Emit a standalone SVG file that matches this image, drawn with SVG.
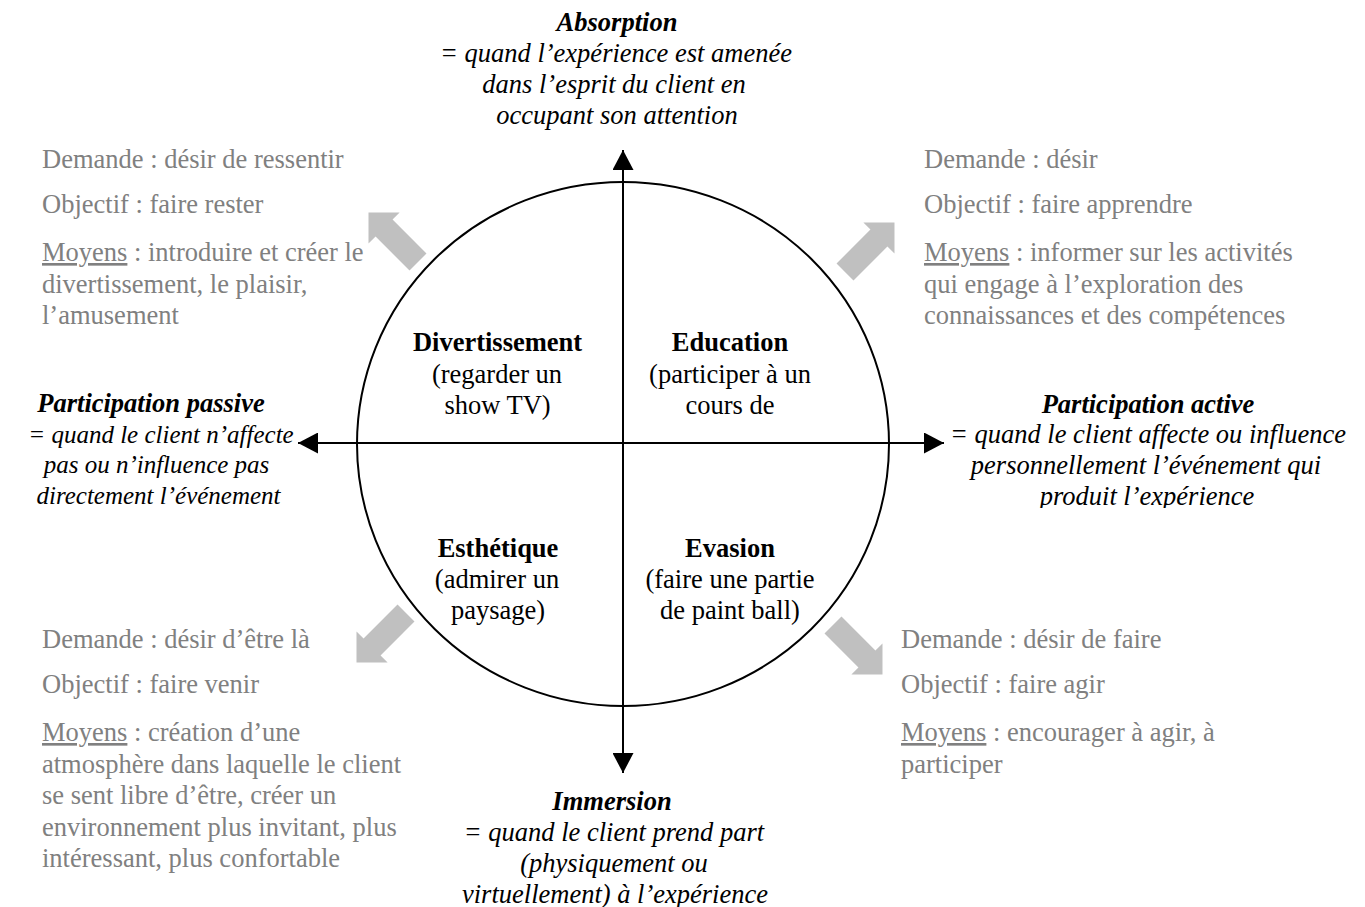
<svg xmlns="http://www.w3.org/2000/svg" width="1365" height="907" viewBox="0 0 1365 907">
<style>
text{font-family:"Liberation Serif","Times New Roman",serif;font-size:26.5px;}
.axis{font-style:italic;fill:#000;text-anchor:middle;}
.axis .h{font-weight:bold;}
.axis .s{font-size:25px;}
.q{fill:#000;text-anchor:middle;}
.q .h{font-weight:bold;}
.g{fill:#808080;}
.u{text-decoration:underline;}
.ln{stroke:#000;stroke-width:2;fill:none;}
.ga{fill:#c0c0c0;}
</style>
<defs>
<marker id="ah" viewBox="0 0 20 21" refX="20" refY="10.5" markerWidth="20" markerHeight="21" markerUnits="userSpaceOnUse" orient="auto">
<path d="M0,0 L20,10.5 L0,21 Z" fill="#000"/>
</marker>
<path id="blk" d="M0,-12 L48,-12 L48,-22 L70,0 L48,22 L48,12 L0,12 Z"/>
<clipPath id="clipR"><rect x="900" y="380" width="465" height="128"/></clipPath>
</defs>

<g id="circle">
<ellipse cx="623" cy="444" rx="266" ry="262" class="ln"/>
</g>

<g id="connectors">
<line x1="623" y1="444" x2="623" y2="150" class="ln" marker-end="url(#ah)"/>
<line x1="623" y1="444" x2="623" y2="773" class="ln" marker-end="url(#ah)"/>
<line x1="623" y1="443" x2="298" y2="443" class="ln" marker-end="url(#ah)"/>
<line x1="623" y1="443" x2="944" y2="443" class="ln" marker-end="url(#ah)"/>
<use href="#blk" class="ga" transform="translate(418,262) rotate(-135)"/>
<use href="#blk" class="ga" transform="translate(845,272) rotate(-45)"/>
<use href="#blk" class="ga" transform="translate(406,613) rotate(135)"/>
<use href="#blk" class="ga" transform="translate(833,625) rotate(45)"/>
</g>

<g id="absorption">
<text class="axis"><tspan class="h" x="617" y="31">Absorption</tspan><tspan x="616" y="62">= quand l’expérience est amenée</tspan><tspan x="614" y="93">dans l’esprit du client en</tspan><tspan x="617" y="124">occupant son attention</tspan></text>
</g>

<g id="immersion">
<text class="axis"><tspan class="h" x="612" y="810">Immersion</tspan><tspan x="614" y="841">= quand le client prend part</tspan><tspan x="614" y="872">(physiquement ou</tspan><tspan x="615" y="903">virtuellement) à l’expérience</tspan></text>
</g>

<g id="passive">
<text class="axis"><tspan class="h" x="151" y="412">Participation passive</tspan><tspan class="s" x="161" y="443">= quand le client n’affecte</tspan><tspan class="s" x="156.5" y="473">pas ou n’influence pas</tspan><tspan class="s" x="158.5" y="504">directement l’événement</tspan></text>
</g>

<g id="active" clip-path="url(#clipR)">
<text class="axis"><tspan class="h" x="1148" y="413">Participation active</tspan><tspan x="1148" y="443">= quand le client affecte ou influence</tspan><tspan x="1146" y="474">personnellement l’événement qui</tspan><tspan x="1147" y="505">produit l’expérience</tspan></text>
</g>

<g id="divertissement">
<text class="q"><tspan class="h" x="497.5" y="351">Divertissement</tspan><tspan x="497" y="383">(regarder un</tspan><tspan x="497.5" y="414">show TV)</tspan></text>
</g>

<g id="education">
<text class="q"><tspan class="h" x="730" y="351">Education</tspan><tspan x="730" y="383">(participer à un</tspan><tspan x="730" y="414">cours de</tspan></text>
</g>

<g id="esthetique">
<text class="q"><tspan class="h" x="498" y="557">Esthétique</tspan><tspan x="497" y="588">(admirer un</tspan><tspan x="498" y="619">paysage)</tspan></text>
</g>

<g id="evasion">
<text class="q"><tspan class="h" x="730" y="557">Evasion</tspan><tspan x="730" y="588">(faire une partie</tspan><tspan x="730" y="619">de paint ball)</tspan></text>
</g>

<g id="info-divertissement">
<text class="g" x="42" y="168">Demande : désir de ressentir</text>
<text class="g" x="42" y="213">Objectif : faire rester</text>
<text class="g"><tspan x="42" y="261"><tspan class="u">Moyens</tspan> : introduire et créer le</tspan><tspan x="42" y="292.5">divertissement, le plaisir,</tspan><tspan x="42" y="324">l’amusement</tspan></text>
</g>

<g id="info-education">
<text class="g" x="924" y="168">Demande : désir</text>
<text class="g" x="924" y="213">Objectif : faire apprendre</text>
<text class="g"><tspan x="924" y="261"><tspan class="u">Moyens</tspan> : informer sur les activités</tspan><tspan x="924" y="292.5">qui engage à l’exploration des</tspan><tspan x="924" y="324">connaissances et des compétences</tspan></text>
</g>

<g id="info-esthetique">
<text class="g" x="42" y="648">Demande : désir d’être là</text>
<text class="g" x="42" y="693">Objectif : faire venir</text>
<text class="g"><tspan x="42" y="741"><tspan class="u">Moyens</tspan> : création d’une</tspan><tspan x="42" y="772.5">atmosphère dans laquelle le client</tspan><tspan x="42" y="804">se sent libre d’être, créer un</tspan><tspan x="42" y="835.5">environnement plus invitant, plus</tspan><tspan x="42" y="867">intéressant, plus confortable</tspan></text>
</g>

<g id="info-evasion">
<text class="g" x="901" y="648">Demande : désir de faire</text>
<text class="g" x="901" y="693">Objectif : faire agir</text>
<text class="g"><tspan x="901" y="741"><tspan class="u">Moyens</tspan> : encourager à agir, à</tspan><tspan x="901" y="772.5">participer</tspan></text>
</g>
</svg>
